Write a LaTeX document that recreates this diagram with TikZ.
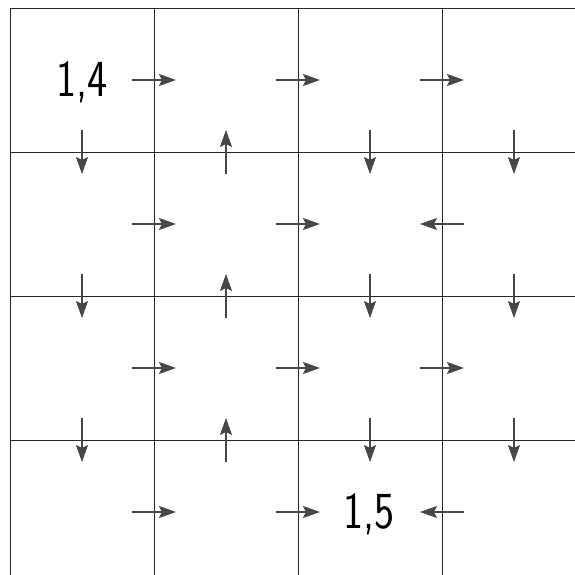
\documentclass[tikz,border=0pt]{standalone}
\usepackage{tikz}
\usetikzlibrary{arrows.meta}

\begin{document}
\begin{tikzpicture}[x=1pt, y=-1pt,
  gridline/.style={draw=black!85, line width=0.8pt},
  arr/.style={-{Stealth[length=17pt, width=12pt, inset=3pt]},
    line width=1.5pt, color=black!72},
  lbl/.style={anchor=base, inner sep=0pt,
    font=\sffamily\fontsize{52}{52}\selectfont},
]
  \useasboundingbox (0,0) rectangle (575,575);

  % grid, open at right and bottom
  \foreach \g in {8,152,296,440}
    \draw[gridline] (10,\g) -- (575,\g);
  \foreach \g in {10,154,298,442}
    \draw[gridline] (\g,8) -- (\g,575);

  % moves across vertical lines (1 = right, -1 = left)
  \foreach \yy/\dc [count=\r] in {80/1, 224/-1, 368/1, 512/-1}
    \foreach \xx/\d [count=\k] in {154/1, 298/1, 442/\dc} {
      \coordinate (h\r-\k) at (\xx,\yy);
      \draw[arr] ([xshift=-22*\d pt]h\r-\k) -- ([xshift=22*\d pt]h\r-\k);
    }

  % moves across horizontal lines (1 = down, -1 = up)
  \foreach \yy [count=\r] in {152, 296, 440}
    \foreach \xx/\d [count=\k] in {82/1, 226/-1, 370/1, 514/1} {
      \coordinate (v\r-\k) at (\xx,\yy);
      \draw[arr] ([yshift=22*\d pt]v\r-\k) -- ([yshift=-22*\d pt]v\r-\k);
    }

  \node[lbl] (start) at (82,97) {\scalebox{0.82}[1]{1,4}};
  \node[lbl] (goal) at (369,528) {\scalebox{0.82}[1]{1,5}};
\end{tikzpicture}
\end{document}
